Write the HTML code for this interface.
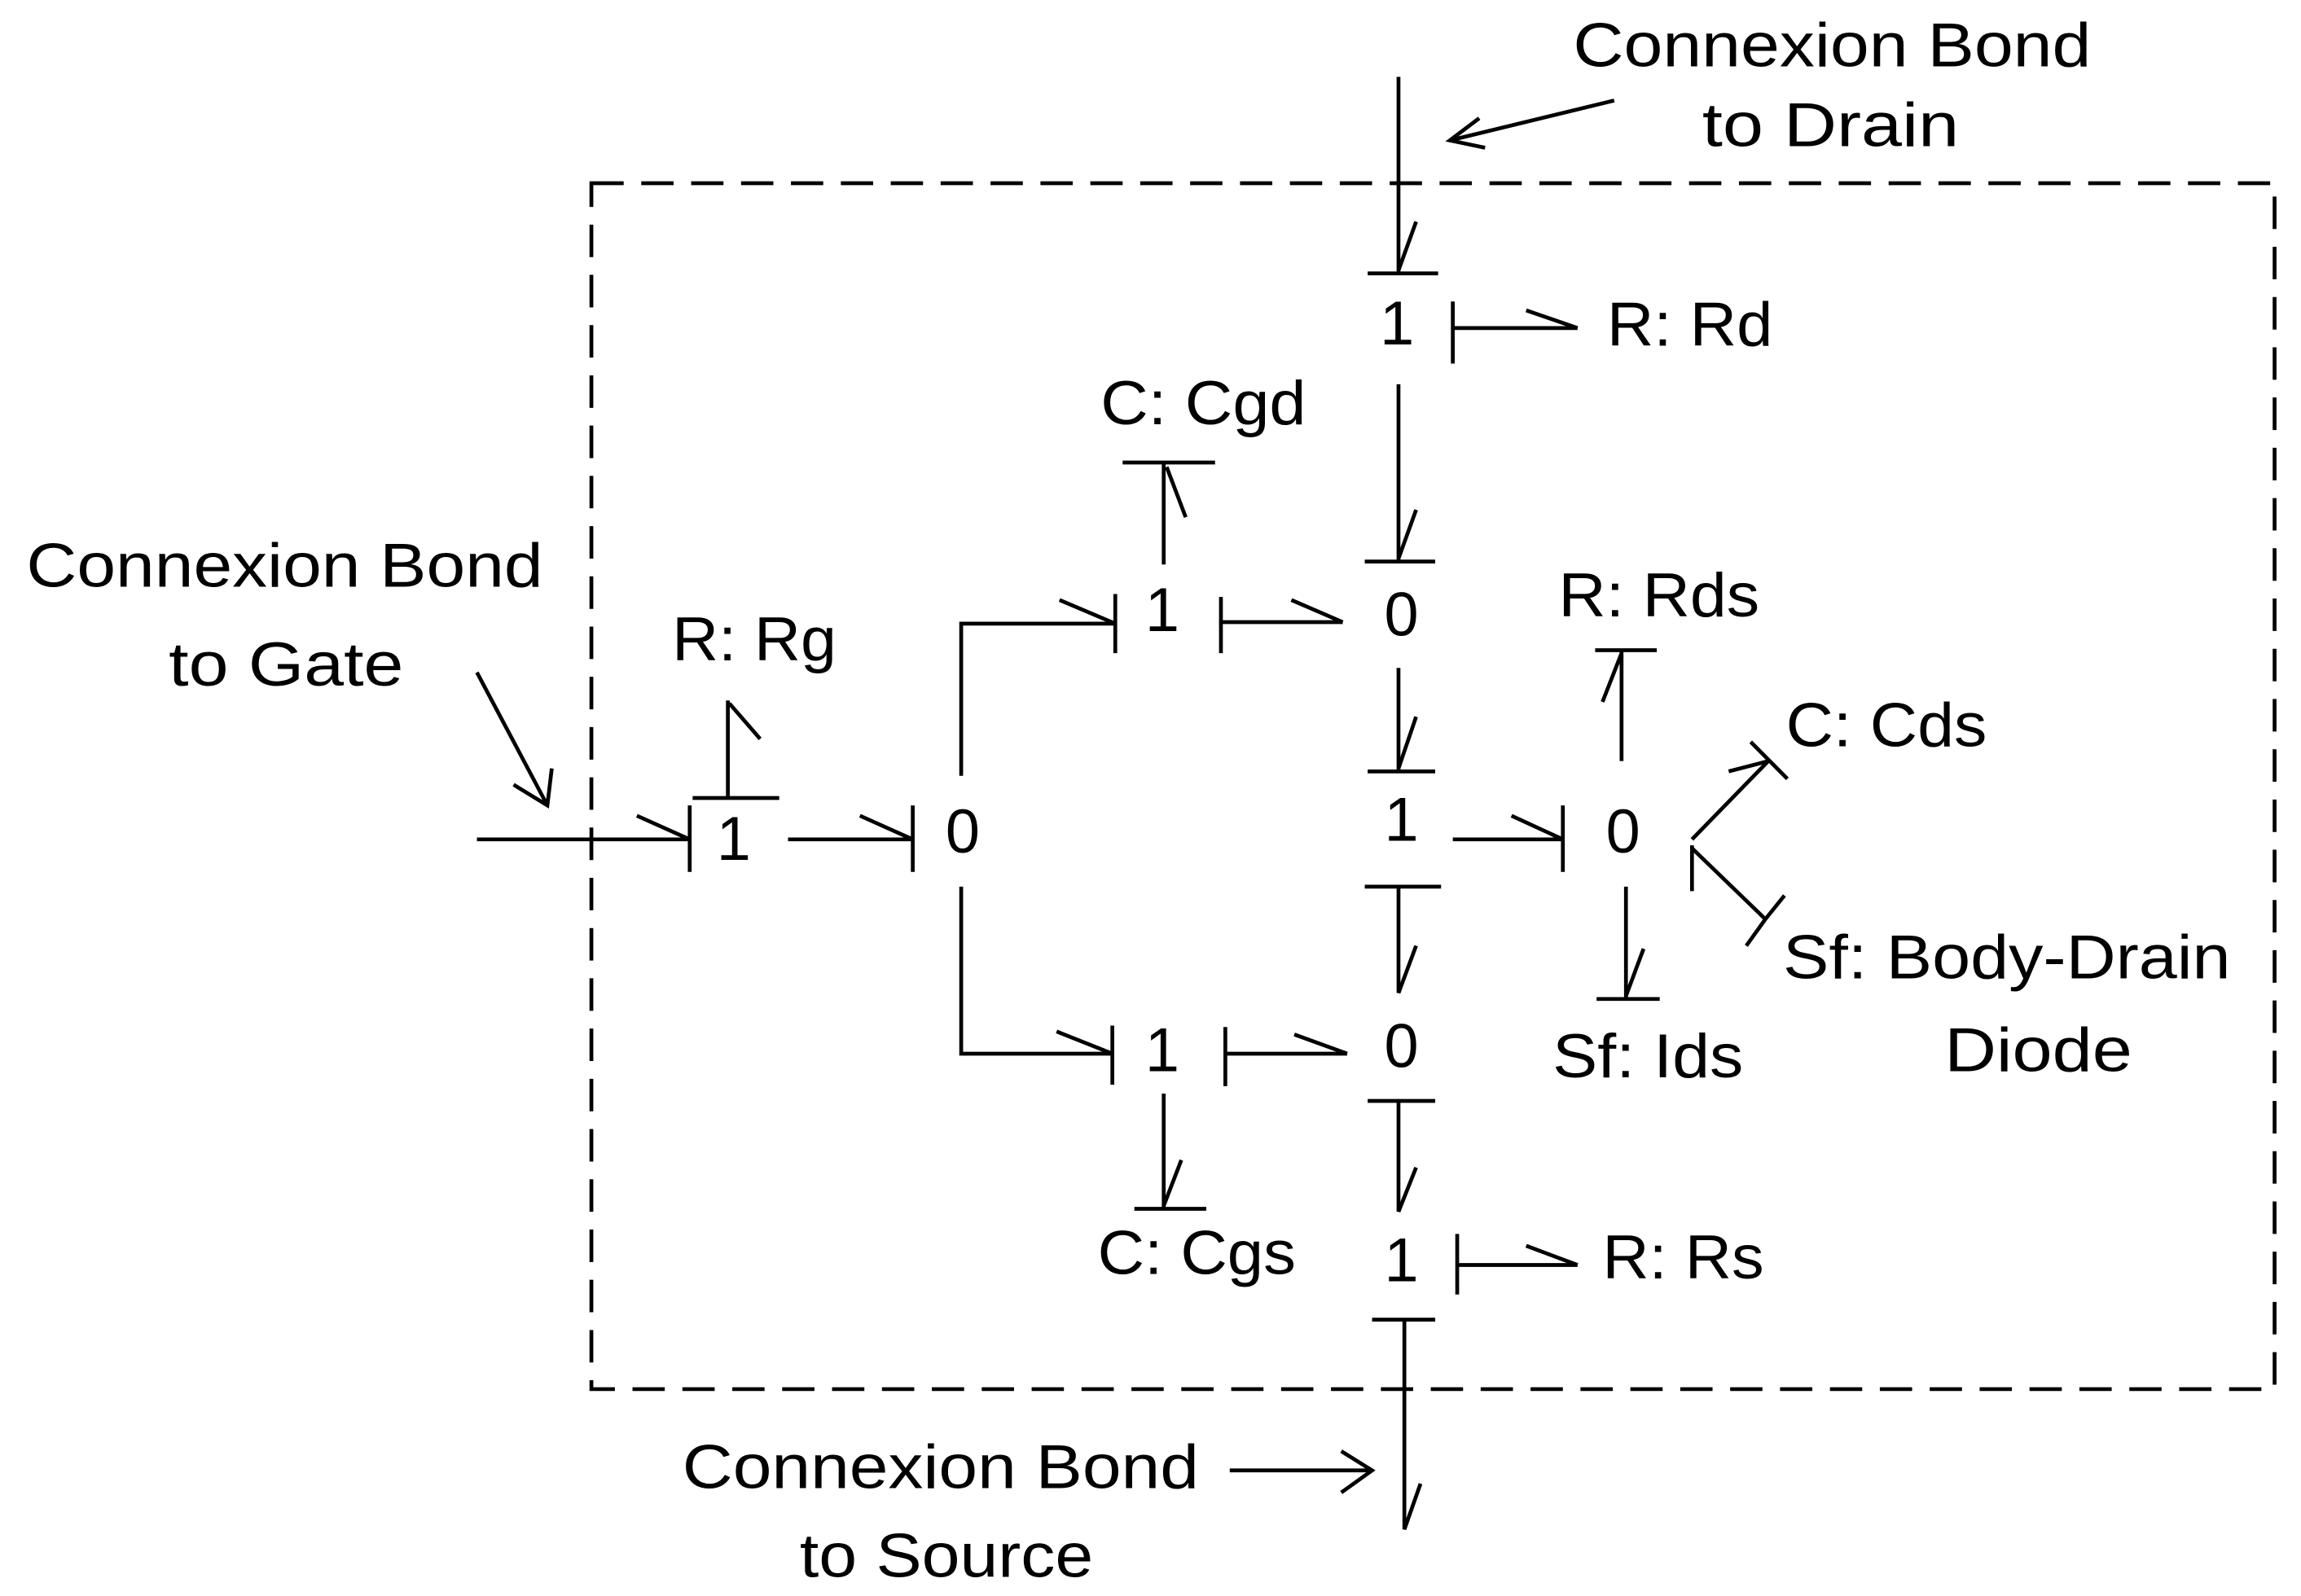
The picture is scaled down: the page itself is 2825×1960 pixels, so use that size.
<!DOCTYPE html>
<html><head><meta charset="utf-8"><style>
html,body{margin:0;padding:0;background:#fff;}
svg{display:block;}
text{font-family:"Liberation Sans","DejaVu Sans",sans-serif;font-size:42px;fill:#000;}
</style></head><body>
<svg width="2825" height="1960" viewBox="0 0 1568 1080" preserveAspectRatio="none" xmlns="http://www.w3.org/2000/svg">
<g stroke="#000" stroke-width="2.6" fill="none" stroke-linecap="butt">
<rect x="403" y="124" width="1147" height="816" stroke-dasharray="22 12"/>

<line x1="953" y1="52" x2="953" y2="185"/>
<line x1="932" y1="185" x2="980" y2="185"/>
<line x1="953" y1="183" x2="965" y2="150"/>
<line x1="1100" y1="68" x2="988" y2="95"/>
<polyline points="1008,80 988,95 1012,100"/>

<line x1="990" y1="222" x2="1075" y2="222"/>
<line x1="990" y1="204" x2="990" y2="246"/>
<line x1="1075" y1="222" x2="1040" y2="210"/>

<line x1="953" y1="260" x2="953" y2="380"/>
<line x1="930" y1="380" x2="978" y2="380"/>
<line x1="953" y1="378" x2="965" y2="345"/>

<line x1="793" y1="382" x2="793" y2="313"/>
<line x1="765" y1="313" x2="828" y2="313"/>
<line x1="795" y1="316" x2="808" y2="350"/>

<line x1="832" y1="404" x2="832" y2="442"/>
<line x1="832" y1="421" x2="915" y2="421"/>
<line x1="915" y1="421" x2="880" y2="406"/>

<polyline points="655,525 655,422 760,422"/>
<line x1="760" y1="402" x2="760" y2="442"/>
<line x1="760" y1="422" x2="722" y2="406"/>

<polyline points="655,600 655,713 758,713"/>
<line x1="758" y1="694" x2="758" y2="734"/>
<line x1="758" y1="713" x2="720" y2="698"/>

<line x1="325" y1="568" x2="470" y2="568"/>
<line x1="470" y1="545" x2="470" y2="590"/>
<line x1="470" y1="568" x2="434" y2="552"/>
<line x1="325" y1="455" x2="373" y2="545"/>
<polyline points="350,531 373,545 376,520"/>

<line x1="496" y1="540" x2="496" y2="474"/>
<line x1="472" y1="540" x2="531" y2="540"/>
<line x1="497" y1="476" x2="518" y2="500"/>

<line x1="537" y1="568" x2="622" y2="568"/>
<line x1="622" y1="545" x2="622" y2="590"/>
<line x1="622" y1="568" x2="586" y2="552"/>

<line x1="953" y1="452" x2="953" y2="522"/>
<line x1="932" y1="522" x2="978" y2="522"/>
<line x1="953" y1="520" x2="965" y2="485"/>

<line x1="990" y1="568" x2="1065" y2="568"/>
<line x1="1065" y1="545" x2="1065" y2="590"/>
<line x1="1065" y1="568" x2="1030" y2="552"/>

<line x1="930" y1="600" x2="982" y2="600"/>
<line x1="953" y1="600" x2="953" y2="672"/>
<line x1="953" y1="672" x2="965" y2="640"/>

<line x1="835" y1="695" x2="835" y2="735"/>
<line x1="835" y1="713" x2="918" y2="713"/>
<line x1="918" y1="713" x2="882" y2="700"/>

<line x1="793" y1="740" x2="793" y2="818"/>
<line x1="773" y1="818" x2="822" y2="818"/>
<line x1="793" y1="816" x2="805" y2="785"/>

<line x1="932" y1="745" x2="978" y2="745"/>
<line x1="953" y1="745" x2="953" y2="820"/>
<line x1="953" y1="820" x2="965" y2="790"/>

<line x1="993" y1="835" x2="993" y2="876"/>
<line x1="993" y1="856" x2="1075" y2="856"/>
<line x1="1075" y1="856" x2="1040" y2="843"/>

<line x1="935" y1="893" x2="978" y2="893"/>
<line x1="957" y1="893" x2="957" y2="1035"/>
<line x1="957" y1="1035" x2="968" y2="1004"/>
<line x1="838" y1="995" x2="935" y2="995"/>
<polyline points="914,982 935,995 914,1010"/>

<line x1="1105" y1="515" x2="1105" y2="440"/>
<line x1="1087" y1="440" x2="1129" y2="440"/>
<line x1="1105" y1="442" x2="1092" y2="475"/>

<line x1="1108" y1="600" x2="1108" y2="676"/>
<line x1="1088" y1="676" x2="1131" y2="676"/>
<line x1="1108" y1="674" x2="1120" y2="642"/>

<line x1="1153" y1="568" x2="1205" y2="515"/>
<line x1="1205" y1="515" x2="1178" y2="522"/>
<line x1="1193" y1="502" x2="1218" y2="527"/>

<line x1="1153" y1="572" x2="1153" y2="603"/>
<line x1="1153" y1="574" x2="1203" y2="622"/>
<line x1="1203" y1="622" x2="1216" y2="606"/>
<line x1="1203" y1="622" x2="1190" y2="640"/>
</g>

<g>
<text x="1072" y="45" textLength="353" lengthAdjust="spacingAndGlyphs">Connexion Bond</text>
<text x="1160" y="99" textLength="175" lengthAdjust="spacingAndGlyphs">to Drain</text>
<text x="18" y="397" textLength="352" lengthAdjust="spacingAndGlyphs">Connexion Bond</text>
<text x="115" y="464" textLength="160" lengthAdjust="spacingAndGlyphs">to Gate</text>
<text x="465" y="1007" textLength="352" lengthAdjust="spacingAndGlyphs">Connexion Bond</text>
<text x="545" y="1067" textLength="200" lengthAdjust="spacingAndGlyphs">to Source</text>

<text x="1095" y="234" textLength="113" lengthAdjust="spacingAndGlyphs">R: Rd</text>
<text x="750" y="287" textLength="140" lengthAdjust="spacingAndGlyphs">C: Cgd</text>
<text x="458" y="447" textLength="112" lengthAdjust="spacingAndGlyphs">R: Rg</text>
<text x="1062" y="417" textLength="137" lengthAdjust="spacingAndGlyphs">R: Rds</text>
<text x="1217" y="505" textLength="137" lengthAdjust="spacingAndGlyphs">C: Cds</text>
<text x="1215" y="662" textLength="305" lengthAdjust="spacingAndGlyphs">Sf: Body-Drain</text>
<text x="1325" y="725" textLength="128" lengthAdjust="spacingAndGlyphs">Diode</text>
<text x="1058" y="729" textLength="130" lengthAdjust="spacingAndGlyphs">Sf: Ids</text>
<text x="748" y="862" textLength="135" lengthAdjust="spacingAndGlyphs">C: Cgs</text>
<text x="1092" y="865" textLength="110" lengthAdjust="spacingAndGlyphs">R: Rs</text>

<text x="952" y="233" text-anchor="middle">1</text>
<text x="955" y="430" text-anchor="middle">0</text>
<text x="792" y="427" text-anchor="middle">1</text>
<text x="500" y="582" text-anchor="middle">1</text>
<text x="656" y="577" text-anchor="middle">0</text>
<text x="955" y="569" text-anchor="middle">1</text>
<text x="1106" y="577" text-anchor="middle">0</text>
<text x="792" y="725" text-anchor="middle">1</text>
<text x="955" y="722" text-anchor="middle">0</text>
<text x="955" y="867" text-anchor="middle">1</text>
</g>
</svg>
</body></html>
